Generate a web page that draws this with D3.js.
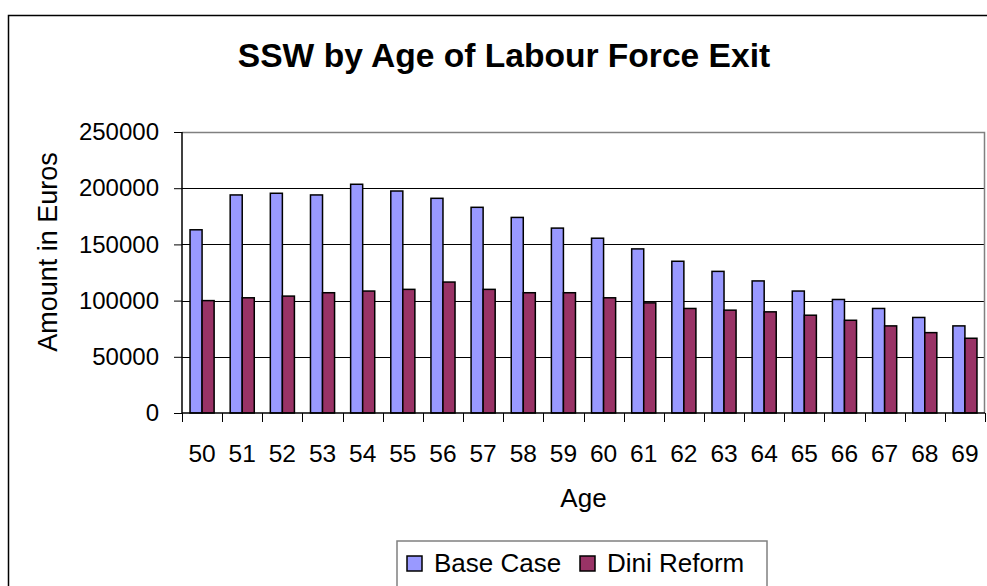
<!DOCTYPE html>
<html>
<head>
<meta charset="utf-8">
<script src="https://cdn.jsdelivr.net/npm/d3@7"></script>
<style>
    body { margin: 0; background: #fff; }
    svg { display: block; font-family: "Liberation Sans", Arial, sans-serif; }
</style>
</head>
<body>
<div id="chart"></div>
<script>
// chart values
var ages = ["50","51","52","53","54","55","56","57","58","59","60","61","62","63","64","65","66","67","68","69"];
var baseCase = [163000, 194000, 195500, 194000, 203500, 197500, 191000, 183000, 174000, 164500,
                155500, 146000, 135000, 126000, 117500, 108500, 101000, 93000, 85000, 77500];
var diniReform = [100000, 102500, 104000, 107000, 108500, 110000, 116500, 110000, 107000, 107000,
                  102500, 98000, 93000, 91500, 90000, 87000, 82500, 77500, 71500, 66500];
var seriesNames = ["Base Case", "Dini Reform"];
var yTicks = [0, 50000, 100000, 150000, 200000, 250000];

var colors = {"Base Case": "#9999ff", "Dini Reform": "#993366"};

var W = 987, H = 586;
var plot = {left: 182, right: 985, top: 132, bottom: 413};

var svg = d3.select("#chart")
    .append("svg")
        .attr("width", W)
        .attr("height", H);

// outer chart frame (runs off the picture at right and bottom)
svg.append("rect")
    .attr("x", 8.5).attr("y", 15.5)
    .attr("width", 1000).attr("height", 600)
    .attr("fill", "#fff")
    .attr("stroke", "#000")
    .attr("stroke-width", 1.5);

// scales
var x = d3.scaleBand()
    .domain(ages)
    .range([plot.left, plot.right])
    .paddingInner(0.4)
    .paddingOuter(0.2);
var xs = d3.scaleBand()
    .domain(seriesNames)
    .range([0, x.bandwidth()]);
var y = d3.scaleLinear()
    .domain([0, 250000])
    .range([plot.bottom, plot.top]);

// gridlines
svg.append("g")
    .selectAll("line")
    .data(yTicks.filter(function(d) { return d > 0 && d < 250000; }))
    .enter().append("line")
        .attr("x1", plot.left).attr("x2", plot.right)
        .attr("y1", function(d) { return Math.round(y(d)) + 0.5; })
        .attr("y2", function(d) { return Math.round(y(d)) + 0.5; })
        .attr("stroke", "#000")
        .attr("stroke-width", 1);

// plot area border (top and right)
svg.append("path")
    .attr("d", "M" + plot.left + "," + (plot.top + 0.5) + "H" + (plot.right - 0.5) + "V" + plot.bottom)
    .attr("fill", "none")
    .attr("stroke", "#808080")
    .attr("stroke-width", 1.5);

// bars
var rows = ages.map(function(a, i) {
    return {age: a, values: [{key: "Base Case", value: baseCase[i]}, {key: "Dini Reform", value: diniReform[i]}]};
});
var groups = svg.append("g")
    .selectAll("g")
    .data(rows)
    .enter().append("g")
        .attr("transform", function(d) { return "translate(" + x(d.age) + ",0)"; });
groups.selectAll("rect")
    .data(function(d) { return d.values; })
    .enter().append("rect")
        .attr("x", function(d) { return xs(d.key); })
        .attr("y", function(d) { return y(d.value); })
        .attr("width", xs.bandwidth())
        .attr("height", function(d) { return y(0) - y(d.value); })
        .attr("fill", function(d) { return colors[d.key]; })
        .attr("stroke", "#000")
        .attr("stroke-width", 1.5);

// y axis
var yAxis = svg.append("g")
    .attr("transform", "translate(" + plot.left + ",0)")
    .call(d3.axisLeft(y).tickValues(yTicks).tickSize(8).tickPadding(15).tickFormat(d3.format("d")));
yAxis.select(".domain").attr("stroke", "#000").attr("stroke-width", 1.5).attr("d", "M0," + plot.top + "V" + plot.bottom);
yAxis.selectAll(".tick line").attr("stroke", "#000");
yAxis.selectAll("text").style("font-size", "24px").attr("fill", "#000");

// x axis, ticks sit between categories
var half = x.step() * x.paddingInner() / 2;
var boundaries = ages.map(function(a) { return x(a) - half; }).concat([plot.right]);
svg.append("line")
    .attr("x1", plot.left).attr("x2", plot.right)
    .attr("y1", plot.bottom).attr("y2", plot.bottom)
    .attr("stroke", "#000").attr("stroke-width", 1.5);
svg.append("g")
    .selectAll("line")
    .data(boundaries)
    .enter().append("line")
        .attr("x1", function(d) { return Math.round(d) + 0.5; })
        .attr("x2", function(d) { return Math.round(d) + 0.5; })
        .attr("y1", plot.bottom).attr("y2", plot.bottom + 9)
        .attr("stroke", "#000");
svg.append("g")
    .selectAll("text")
    .data(ages)
    .enter().append("text")
        .attr("x", function(d) { return x(d) + x.bandwidth() / 2; })
        .attr("y", 462)
        .attr("text-anchor", "middle")
        .style("font-size", "24.5px")
        .text(function(d) { return d; });

// titles
svg.append("text")
    .attr("x", 504).attr("y", 67)
    .attr("text-anchor", "middle")
    .style("font-size", "33.6px").style("font-weight", "bold")
    .text("SSW by Age of Labour Force Exit");
svg.append("text")
    .attr("x", (plot.left + plot.right) / 2).attr("y", 507)
    .attr("text-anchor", "middle")
    .style("font-size", "26px")
    .text("Age");
svg.append("text")
    .attr("transform", "translate(57,252) rotate(-90)")
    .attr("text-anchor", "middle")
    .style("font-size", "27px")
    .text("Amount in Euros");

// legend
var legend = svg.append("g");
legend.append("rect")
    .attr("x", 397).attr("y", 541)
    .attr("width", 370).attr("height", 80)
    .attr("fill", "#fff")
    .attr("stroke", "#808080")
    .attr("stroke-width", 1.5);
var legendX = [407, 580];
seriesNames.forEach(function(name, i) {
    legend.append("rect")
        .attr("x", legendX[i]).attr("y", 556)
        .attr("width", 15).attr("height", 15)
        .attr("fill", colors[name])
        .attr("stroke", "#000")
        .attr("stroke-width", 1.5);
    legend.append("text")
        .attr("x", legendX[i] + 27).attr("y", 572)
        .style("font-size", "26px")
        .text(name);
});
</script>
</body>
</html>
